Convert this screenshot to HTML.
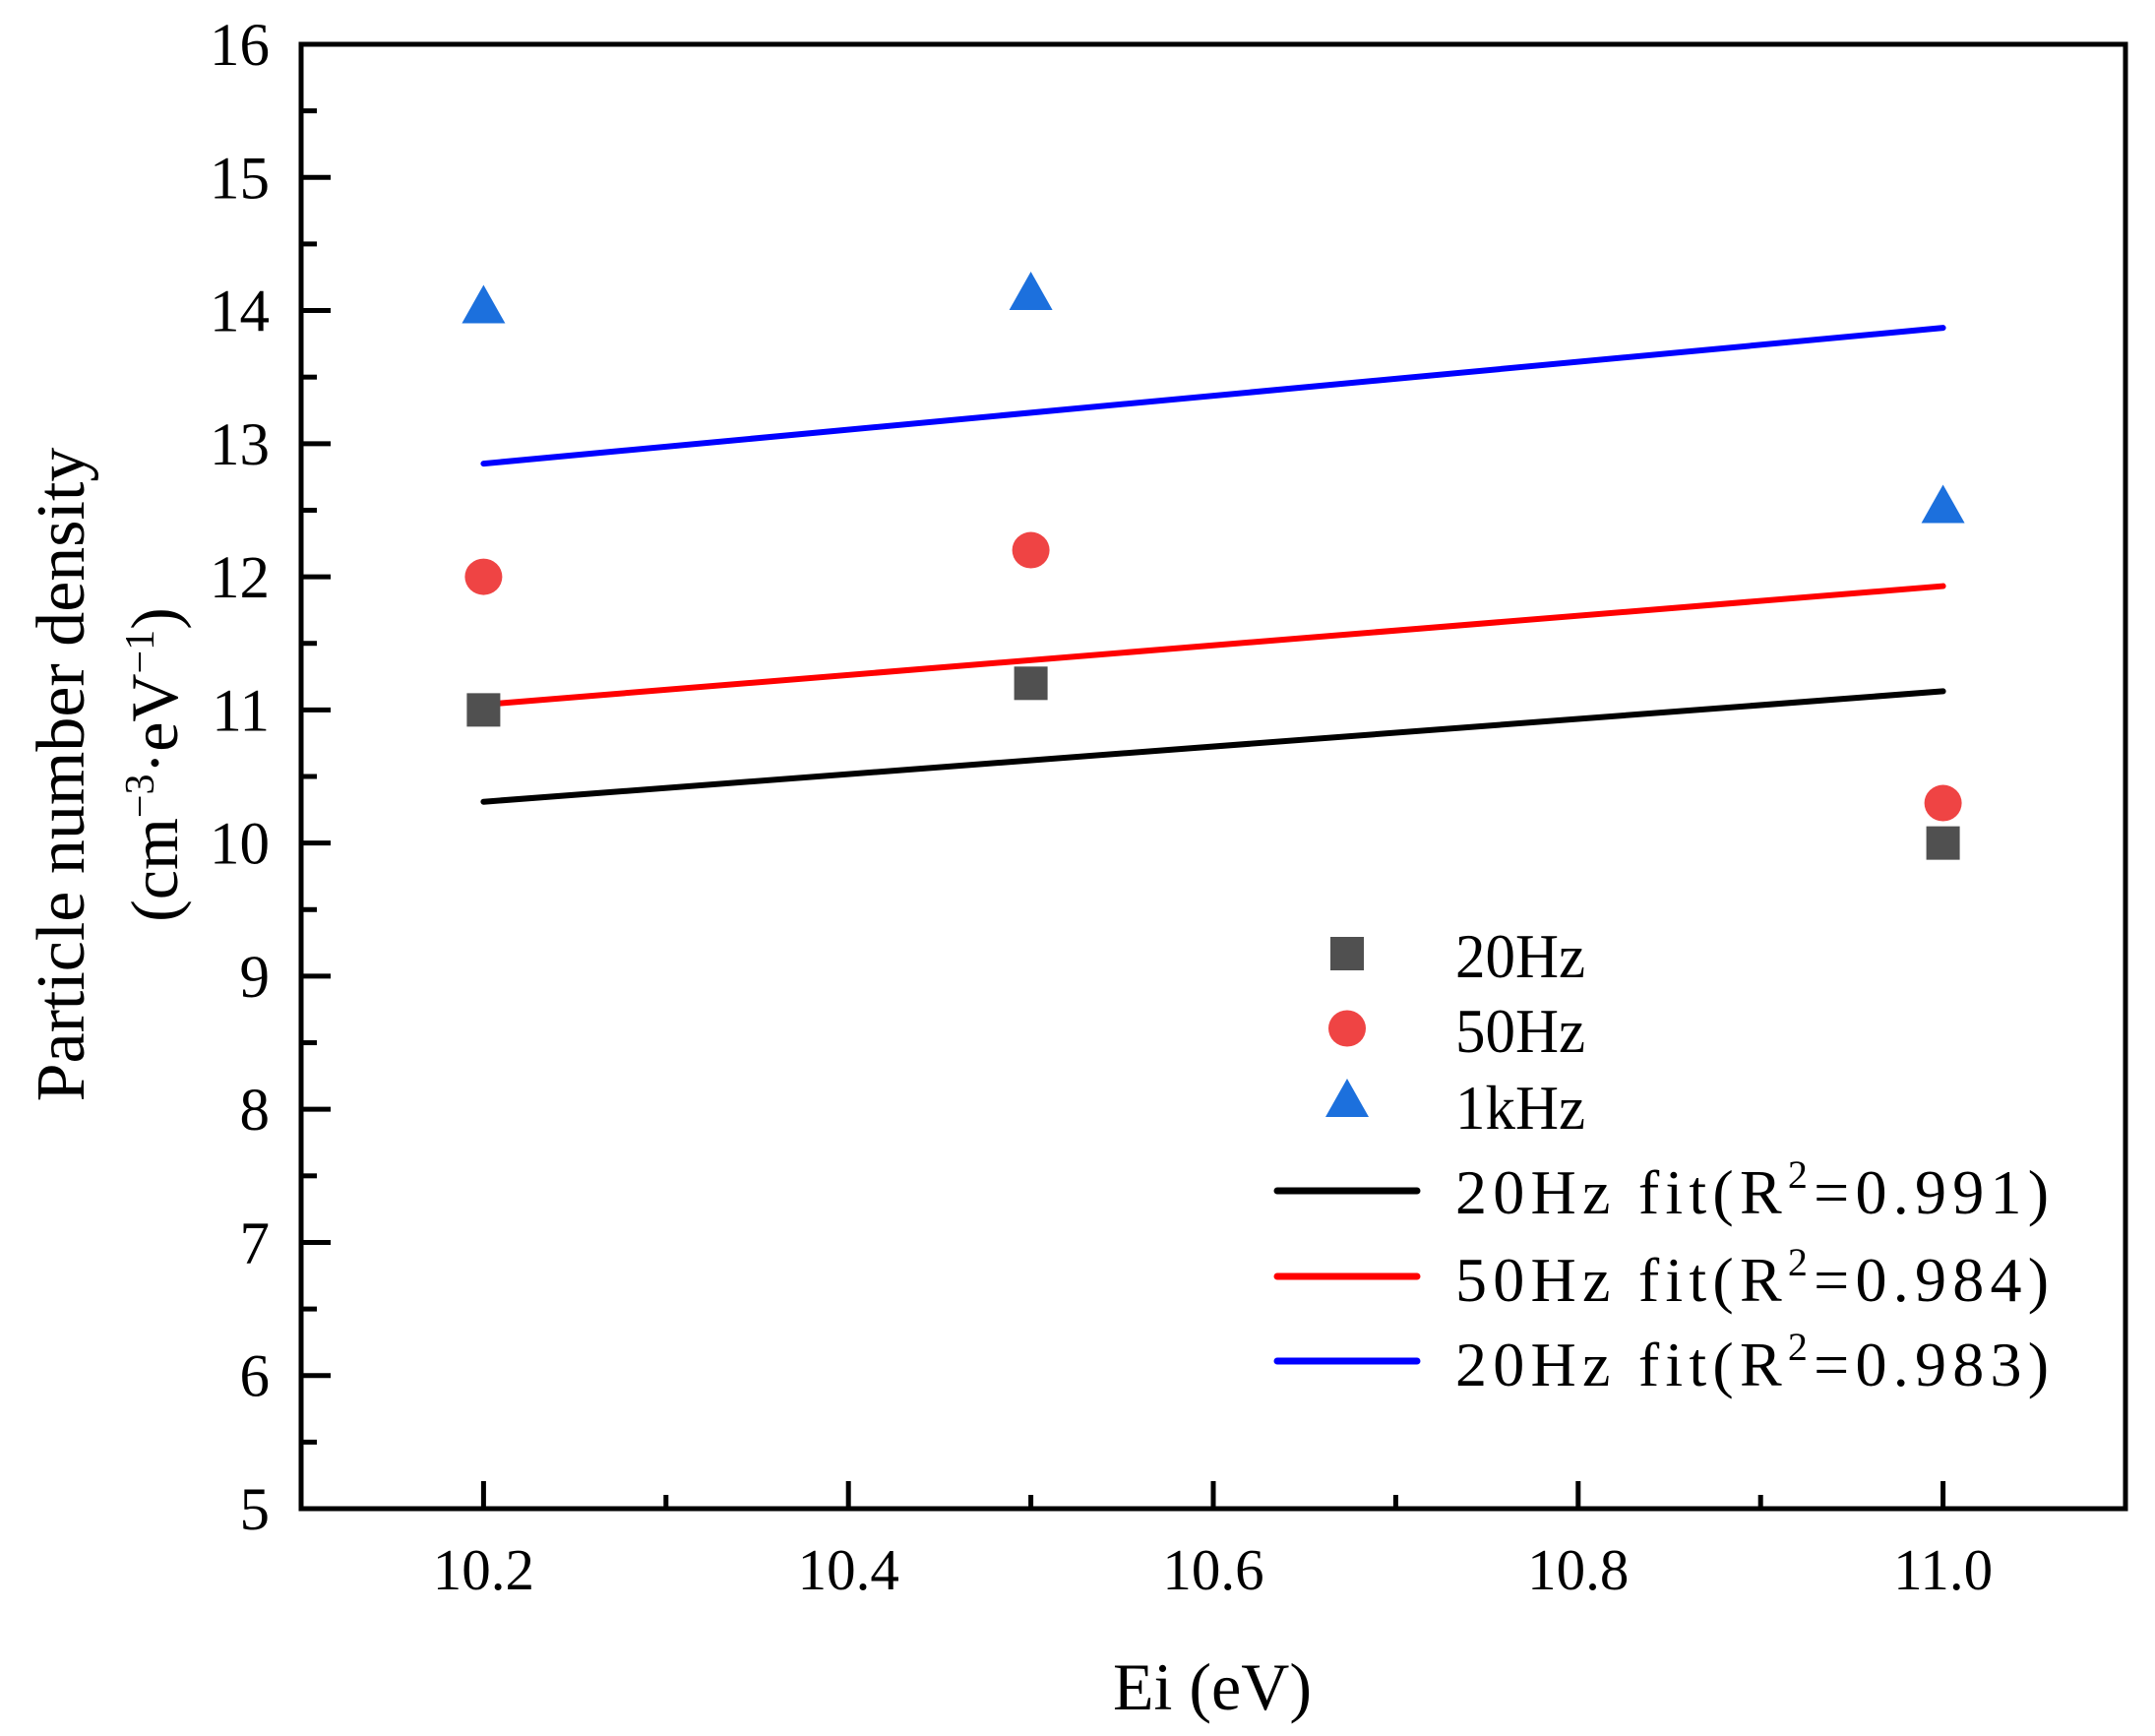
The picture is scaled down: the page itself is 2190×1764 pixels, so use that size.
<!DOCTYPE html>
<html><head><meta charset="utf-8"><style>
html,body{margin:0;padding:0;background:#fff;}
svg{display:block;font-family:"Liberation Serif","Noto Serif CJK SC",serif;}
</style></head><body>
<svg id="chart" width="2190" height="1764" viewBox="0 0 2190 1764" xmlns="http://www.w3.org/2000/svg">
<g id="marks"></g>
<g id="axes"></g>
<g id="legend"></g>
<text x="1232" y="1737" font-size="68" text-anchor="middle">Ei (eV)</text>
<text transform="translate(85,787) rotate(-90)" font-size="70" text-anchor="middle">Particle number density</text>
<text transform="translate(180,777) rotate(-90)" font-size="68" text-anchor="middle">(cm<tspan dy="-24" font-size="42">−3</tspan><tspan dy="24">·eV</tspan><tspan dy="-24" font-size="42">−1</tspan><tspan dy="24">)</tspan></text>
</svg>
<script>
const xCats = [10.2, 10.5, 11.0];
const s20 = [11.0, 11.2, 10.0];
const s50 = [12.0, 12.2, 10.3];
const s1k = [14.0, 14.1, 12.5];
const fitX = [10.2, 11.0];
const fit20 = [10.31, 11.14];
const fit50 = [11.04, 11.93];
const fit1k = [12.85, 13.87];
const xTicks = [10.2, 10.4, 10.6, 10.8, 11.0];
const xTickLabels = ["10.2", "10.4", "10.6", "10.8", "11.0"];
const yTicks = [5,6,7,8,9,10,11,12,13,14,15,16];

const NS = "http://www.w3.org/2000/svg";
const X0=306, X1=2160, Y0=1533, Y1=45;
const xMin=10.1, xMax=11.1, yMin=5, yMax=16;
function sx(v){return X0+(v-xMin)/(xMax-xMin)*(X1-X0);}
function sy(v){return Y0-(v-yMin)/(yMax-yMin)*(Y0-Y1);}
function mk(tag, attrs, parent){const e=document.createElementNS(NS,tag);for(const k in attrs)e.setAttribute(k,attrs[k]);parent.appendChild(e);return e;}
const marks=document.getElementById('marks'), axes=document.getElementById('axes'), legend=document.getElementById('legend');

[[fit20,'#000000','fit-line-20hz'],[fit50,'#ff0000','fit-line-50hz'],[fit1k,'#0000ff','fit-line-1khz']].forEach(([ys,c,n])=>{
  const l=mk('line',{x1:sx(fitX[0]),y1:sy(ys[0]),x2:sx(fitX[1]),y2:sy(ys[1]),stroke:c,'stroke-width':6,'stroke-linecap':'round'},marks);
  
  
});
function square(x,y,parent){return mk('rect',{x:x-17,y:y-17,width:34,height:34,fill:'#505050'},parent);}
function circle(x,y,parent){return mk('ellipse',{cx:x,cy:y,rx:19,ry:18.5,fill:'#ef4444'},parent);}
function tri(x,y,parent){return mk('polygon',{points:`${x},${y-26} ${x-22},${y+13} ${x+22},${y+13}`,fill:'#1c70dd'},parent);}
xCats.forEach((xv,i)=>{
  const a=square(sx(xv),sy(s20[i]),marks);
  
  
  const b=circle(sx(xv),sy(s50[i]),marks);
  
  
  const c=tri(sx(xv),sy(s1k[i]),marks);
  
  
});

const fr=mk('rect',{x:X0,y:Y1,width:X1-X0,height:Y0-Y1,fill:'none',stroke:'#000','stroke-width':5},axes);


yTicks.forEach(v=>{
  const y=sy(v);
  const t=mk('line',{x1:X0,y1:y,x2:X0+30,y2:y,stroke:'#000','stroke-width':5},axes);
  
  
  if(v<yMax){const m=mk('line',{x1:X0,y1:sy(v+0.5),x2:X0+16,y2:sy(v+0.5),stroke:'#000','stroke-width':5},axes);
    
    }
  const lb=mk('text',{x:274,y:y+21,'font-size':61,'text-anchor':'end'},axes);
  lb.textContent=String(v);
  
  
});
xTicks.forEach((v,i)=>{
  const x=sx(v);
  const t=mk('line',{x1:x,y1:Y0,x2:x,y2:Y0-28,stroke:'#000','stroke-width':5},axes);
  
  
  const m=mk('line',{x1:sx(v+0.1),y1:Y0,x2:sx(v+0.1),y2:Y0-14,stroke:'#000','stroke-width':5},axes);
  
  
  const lb=mk('text',{x:x,y:1615,'font-size':59,'text-anchor':'middle'},axes);
  lb.textContent=xTickLabels[i];
  
  
});

const LX=1369;
let e;
e=square(LX,969,legend);  
e=circle(LX,1045,legend);  
e=tri(LX,1122,legend);  
[[1210,'#000'],[1297,'#ff0000'],[1383,'#0000ff']].forEach(([y,c])=>{
  const l=mk('line',{x1:1298,y1:y,x2:1440,y2:y,stroke:c,'stroke-width':7,'stroke-linecap':'round'},legend);
  
  
});
</script>
<svg style="position:absolute;left:0;top:0" width="2190" height="1764" font-family="'Liberation Serif',serif">
<text x="1479" y="993" font-size="64" textLength="132" lengthAdjust="spacingAndGlyphs">20Hz</text>
<text x="1479" y="1069" font-size="64" textLength="132" lengthAdjust="spacingAndGlyphs">50Hz</text>
<text x="1479" y="1147" font-size="64" textLength="132" lengthAdjust="spacingAndGlyphs">1kHz</text>
<text x="1479" y="1233" font-size="64" textLength="603" lengthAdjust="spacing">20Hz fit(R<tspan dy="-26" font-size="40">2</tspan><tspan dy="26">=0.991)</tspan></text>
<text x="1479" y="1322" font-size="64" textLength="603" lengthAdjust="spacing">50Hz fit(R<tspan dy="-26" font-size="40">2</tspan><tspan dy="26">=0.984)</tspan></text>
<text x="1479" y="1408" font-size="64" textLength="603" lengthAdjust="spacing">20Hz fit(R<tspan dy="-26" font-size="40">2</tspan><tspan dy="26">=0.983)</tspan></text>
</svg>
<style>body{position:relative;width:2190px;height:1764px;overflow:hidden;}</style>
</body></html>
